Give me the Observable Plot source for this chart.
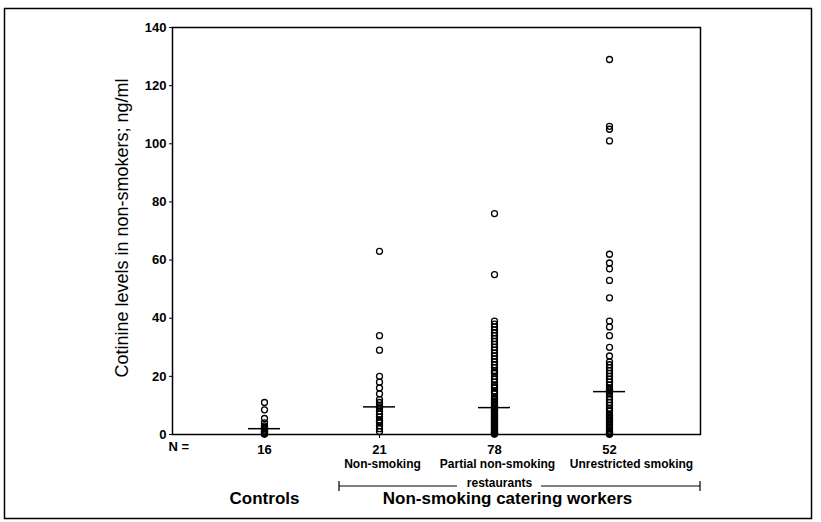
<!DOCTYPE html>
<html><head><meta charset="utf-8">
<script src="https://cdn.jsdelivr.net/npm/d3@7"></script>
<script src="https://cdn.jsdelivr.net/npm/@observablehq/plot@0.6"></script>
<style>body{margin:0;background:#fff}</style>
</head><body><div id="chart"></div>
<script>
// Group N labels (x categories) and their descriptions
const groups = ["16", "21", "78", "52"];
const subLabels = ["", "Non-smoking", "Partial non-smoking", "Unrestricted smoking"];
const yLabel = "Cotinine levels in non-smokers; ng/ml";
const yTicks = [0, 20, 40, 60, 80, 100, 120, 140];

// Cotinine values (ng/ml)
const controls = [11, 8.5, 5.5, 4, 3, 2.5, 2, 2, 2, 1.5, 1, 1, 0.8, 0.5, 0.3, 0.2];
const nonSmoking = [63, 34, 29, 20, 18, 16, 14, 12, 11, 10, 9.5, 9, 8, 7, 6, 5, 4.5, 4, 3, 2, 1];
const partial = [76, 55, 39, 38, 37, 36, 35, 34, 33, 32, 31, 30, 29, 28, 27, 26, 25, 24, 23, 22,
  21.5, 21, 20, 19, 18, 17, 16.5, 16, 15, 14.5, 14, 13, 12.5, 12, 11.5, 11, 10.5, 10, 9.5,
  9, 8.8, 8.5, 8.2, 8, 7.7, 7.5, 7.2, 7, 6.7, 6.5, 6.2, 6, 5.7, 5.5, 5.2, 5, 4.7, 4.5, 4.2, 4,
  3.7, 3.5, 3.2, 3, 2.7, 2.5, 2.2, 2, 1.8, 1.5, 1.3, 1, 0.8, 0.6, 0.5, 0.4, 0.3, 0.2];
const unrestricted = [129, 106, 105, 101, 62, 59, 57, 53, 47, 39, 37, 34, 30, 27, 25, 24, 23, 22, 21, 20,
  19, 18, 17, 16, 15.5, 15, 14.5, 14, 13, 12, 11, 10, 9, 8.5, 8, 7, 6.5, 6, 5.5, 5, 4.5, 4, 3.5, 3,
  2.5, 2, 1.5, 1, 0.8, 0.5, 0.3, 0.1];

const series = [controls, nonSmoking, partial, unrestricted];
const rows = groups.flatMap((g, i) => series[i].map(v => ({group: g, value: v})));
const labelRows = groups.map((g, i) => ({group: g, label: subLabels[i]}));

function annotations(index, scales, values, dims) {
  const x = scales.x;
  const bw = x.bandwidth();
  const cx = g => x(g) + bw / 2;
  const g = d3.create("svg:g").attr("fill", "none").attr("stroke", "black");
  // outer frame
  g.append("rect").attr("x", 4.5).attr("y", 8.5).attr("width", 807).attr("height", 510).attr("stroke-width", 1.5);
  // bracket under restaurant groups
  const left = cx("21") - 40;
  const right = dims.width - dims.marginRight;
  const y = dims.height - dims.marginBottom + 52;
  const tc = cx("78") + 5;
  g.append("path").attr("stroke-width", 1.2)
    .attr("d", `M${left},${y - 5}V${y + 5}M${left},${y}H${tc - 42}M${tc + 42},${y}H${right}M${right},${y - 5}V${y + 5}`);
  return g.node();
}

const subStyle = {frameAnchor: "bottom", dy: 33, fontWeight: "bold", fontSize: 12, textAnchor: "middle"};

const plot = Plot.plot({
  width: 821, height: 522,
  marginLeft: 172, marginRight: 121, marginTop: 27, marginBottom: 88,
  style: {fontFamily: "Arial, 'Liberation Sans', sans-serif", fontSize: "13px", color: "black", background: "white"},
  x: {type: "band", domain: groups, paddingInner: 0.723, paddingOuter: 0.649},
  y: {domain: [0, 140]},
  marks: [
    Plot.frame({stroke: "black", strokeWidth: 1.5}),
    Plot.axisY({ticks: yTicks, tickSize: 3, tickPadding: 3, fontWeight: "bold", label: null}),
    Plot.axisX({tickSize: 4, tickPadding: 6, fontWeight: "bold", label: null}),
    Plot.text([yLabel], {frameAnchor: "left", textAnchor: "middle", rotate: -90, dx: -50, dy: -3, fontSize: 18}),
    Plot.dot(rows, {x: "group", y: "value", r: 3, stroke: "black", strokeWidth: 1.3, fill: "none"}),
    Plot.tickY(rows, Plot.groupX({y: "median"}, {x: "group", y: "value", stroke: "black", strokeWidth: 1.5})),
    Plot.text(labelRows.slice(1, 3), {x: "group", text: "label", dx: 3, ...subStyle}),
    Plot.text(labelRows.slice(3), {x: "group", text: "label", dx: 22, ...subStyle}),
    Plot.text(["N ="], {frameAnchor: "bottom-left", dx: -4, dy: 16, textAnchor: "start", fontWeight: "bold"}),
    Plot.text(["restaurants"], {x: () => "78", frameAnchor: "bottom", dx: 5, dy: 52, fontWeight: "bold", fontSize: 12}),
    Plot.text(["Controls"], {x: () => "16", frameAnchor: "bottom", dy: 69, fontWeight: "bold", fontSize: 17}),
    Plot.text(["Non-smoking catering workers"], {x: () => "78", frameAnchor: "bottom", dx: 13, dy: 69, fontWeight: "bold", fontSize: 17}),
    annotations
  ]
});
document.getElementById("chart").appendChild(plot);
</script>
</body></html>
